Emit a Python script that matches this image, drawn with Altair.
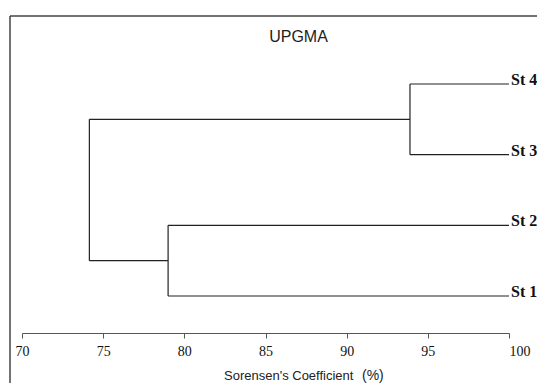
import altair as alt
import pandas as pd

# ---- data ----
leaves = ["St 1", "St 2", "St 3", "St 4"]
leaf_y = [1, 2, 3, 4]
leaf_end = 100

merge_names = ["C1", "C2", "C3"]
merge_a = ["St 4", "St 2", "C1"]
merge_b = ["St 3", "St 1", "C2"]
merge_h = [93.9, 79.0, 74.15]

x_ticks = [70, 75, 80, 85, 90, 95, 100]
title_text = "UPGMA"
x_title = "Sorensen's Coefficient"
x_title_unit = "(%)"

# ---- build dendrogram segments ----
node_y = dict(zip(leaves, leaf_y))
node_h = {l: leaf_end for l in leaves}
segs = []
for name, a, b, h in zip(merge_names, merge_a, merge_b, merge_h):
    ya, yb = node_y[a], node_y[b]
    segs.append({"x": h, "x2": h, "y": ya, "y2": yb})
    segs.append({"x": h, "x2": node_h[a], "y": ya, "y2": ya})
    segs.append({"x": h, "x2": node_h[b], "y": yb, "y2": yb})
    node_y[name] = (ya + yb) / 2
    node_h[name] = h
seg_df = pd.DataFrame(segs)
leaf_df = pd.DataFrame({"leaf": leaves, "y": leaf_y, "x": [leaf_end] * len(leaves)})
one = pd.DataFrame({"a": [0]})

W, H = 487, 317
xs = alt.Scale(domain=[70, 100], nice=False, zero=False)
ys = alt.Scale(domain=[0.4765, 4.962], nice=False, zero=False)

x_axis = alt.Axis(
    values=x_ticks, grid=False, title=None, orient="bottom",
    domainColor="#555", tickColor="#555", tickSize=5, labelPadding=6,
    labelFont="Liberation Serif", labelFontSize=14, labelColor="#111",
    labelFlush=False,
    labelAlign={"condition": {"test": "datum.value == 100", "value": "left"}, "value": "center"},
)

lines = alt.Chart(seg_df).mark_rule(color="#222", strokeWidth=1.2).encode(
    x=alt.X("x:Q", scale=xs, axis=x_axis),
    x2="x2:Q",
    y=alt.Y("y:Q", scale=ys, axis=None),
    y2="y2:Q",
)

labels = alt.Chart(leaf_df).mark_text(
    align="left", baseline="alphabetic", dx=2, dy=1,
    font="Liberation Serif", fontWeight="bold", fontSize=16, color="#111",
).encode(
    x=alt.X("x:Q", scale=xs),
    y=alt.Y("y:Q", scale=ys),
    text="leaf:N",
)

frame_left = alt.Chart(one).mark_rule(color="#444", strokeWidth=1.5).encode(
    x=alt.value(-12), x2=alt.value(-12), y=alt.value(0), y2=alt.value(400)
)
frame_top = alt.Chart(one).mark_rule(color="#444", strokeWidth=1.5).encode(
    x=alt.value(-12), x2=alt.value(540), y=alt.value(0), y2=alt.value(0)
)

title = alt.Chart(one).mark_text(
    font="Liberation Sans", fontSize=16, color="#222", baseline="middle", align="center"
).encode(x=alt.value(276.5), y=alt.value(20.5), text=alt.value(title_text))

xt1 = alt.Chart(one).mark_text(
    font="Liberation Sans", fontSize=13, color="#222", baseline="alphabetic", align="left"
).encode(x=alt.value(202), y=alt.value(364), text=alt.value(x_title))

xt2 = alt.Chart(one).mark_text(
    font="Liberation Sans", fontSize=14, color="#222", baseline="alphabetic", align="left"
).encode(x=alt.value(340), y=alt.value(364), text=alt.value(x_title_unit))

chart = alt.layer(frame_left, frame_top, lines, labels, title, xt1, xt2).properties(
    width=W, height=H,
    autosize=alt.AutoSizeParams(type="none"),
    padding={"left": 14, "top": 8, "right": 28, "bottom": 50},
    background="white",
).configure_view(stroke=None)

chart.save("out.html", embed_options={"renderer": "svg", "actions": False})
